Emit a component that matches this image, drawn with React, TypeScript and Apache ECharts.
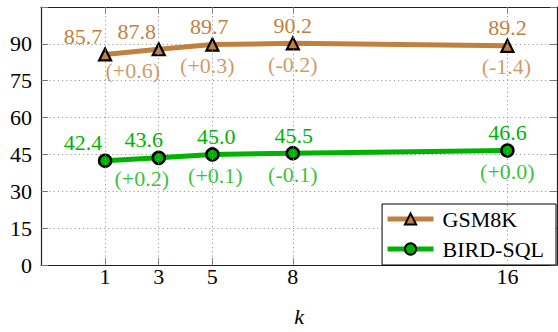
import React, { useEffect, useRef } from "react";
import * as echarts from "echarts";

const kValues = [1, 3, 5, 8, 16];
const gsm8k = [85.7, 87.8, 89.7, 90.2, 89.2];
const birdSql = [42.4, 43.6, 45.0, 45.5, 46.6];
const gsm8kDelta = ["", "(+0.6)", "(+0.3)", "(-0.2)", "(-1.4)"];
const birdSqlDelta = ["", "(+0.2)", "(+0.1)", "(-0.1)", "(+0.0)"];
const yTickMax = 90;

const FONT = "Liberation Serif, serif";
const BROWN = "#bf8040";
const GREEN = "#00b300";

// label placement tweaks (pixels)
const gsmTopDx = [-22, -22, -3, 0, 0];
const birdTopDx = [-22, -15, 4, 1, 0];
const gsmBotDx = [0, -26, -5, 0, -1];
const birdBotDx = [0, -17, 3, 0, 0];
const TOP_DY = -18;
const BOT_DY = 21;

function valueItems(values: number[], dx: number[], color: string) {
  return values.map((v, i) => ({
    value: [kValues[i], v],
    label: {
      show: true,
      position: "inside",
      offset: [dx[i], TOP_DY],
      formatter: v.toFixed(1),
      color,
      fontFamily: FONT,
      fontSize: 22,
    },
  }));
}

function deltaItems(values: number[], deltas: string[], dx: number[], color: string) {
  return values.map((v, i) => ({
    value: [kValues[i], v],
    label: {
      show: deltas[i] !== "",
      position: "inside",
      offset: [dx[i], BOT_DY],
      formatter: deltas[i],
      color,
      fontFamily: FONT,
      fontSize: 22,
    },
  }));
}

export default function App() {
  const ref = useRef<HTMLDivElement>(null);
  useEffect(() => {
    if (!ref.current) return;
    const chart = echarts.init(ref.current, undefined, { renderer: "svg" });
    const axisLine = { show: true, onZero: false, lineStyle: { color: "#222", width: 1.2 } };
    const tick = { show: true, inside: true, length: 7, lineStyle: { color: "#777", width: 1 } };
    const dotted = { color: "#9a9a9a", width: 1, type: [1.2, 3] as number[] };
    chart.setOption({
      animation: false,
      backgroundColor: "#fff",
      textStyle: { fontFamily: FONT },
      grid: { left: 41, right: 1, top: 7, bottom: 66 },
      xAxis: [
        {
          type: "value",
          min: -1.39,
          max: 17.85,
          position: "bottom",
          axisLine,
          axisTick: { ...tick, customValues: kValues },
          axisLabel: {
            customValues: kValues,
            color: "#000",
            fontFamily: FONT,
            fontSize: 22,
            margin: 0,
          },
          splitLine: { show: false },
          name: "k",
          nameLocation: "middle",
          nameGap: 40,
          nameTextStyle: { fontFamily: FONT, fontSize: 22, fontStyle: "italic", color: "#000" },
        },
        {
          type: "value",
          min: -1.39,
          max: 17.85,
          position: "top",
          axisLine,
          axisTick: { ...tick, customValues: kValues },
          axisLabel: { show: false },
          splitLine: { show: false },
        },
      ],
      yAxis: [
        {
          type: "value",
          min: 0,
          max: 105,
          interval: 15,
          position: "left",
          axisLine,
          axisTick: tick,
          axisLabel: {
            color: "#000",
            fontFamily: FONT,
            fontSize: 22,
            margin: 9,
            formatter: (v: number) => (v <= yTickMax ? String(v) : ""),
          },
          splitLine: { show: true, lineStyle: dotted },
        },
        {
          type: "value",
          min: 0,
          max: 105,
          interval: 15,
          position: "right",
          axisLine,
          axisTick: tick,
          axisLabel: { show: false },
          splitLine: { show: false },
        },
      ],
      legend: {
        data: ["GSM8K", "BIRD-SQL"],
        orient: "vertical",
        right: 2,
        bottom: 67,
        itemWidth: 46,
        itemHeight: 14,
        itemGap: 8,
        padding: [4, 12, 5, 3],
        borderColor: "#000",
        borderWidth: 1,
        borderRadius: 0,
        backgroundColor: "#fff",
        lineStyle: { width: 5 },
        textStyle: { fontFamily: FONT, fontSize: 22, color: "#000", padding: [0, 0, 0, 4] },
      },
      series: [
        {
          type: "line",
          name: "grid",
          data: [],
          z: 1,
          silent: true,
          markLine: {
            silent: true,
            symbol: "none",
            label: { show: false },
            lineStyle: dotted,
            data: kValues.map((k) => ({ xAxis: k })),
          },
        },
        {
          type: "line",
          name: "GSM8K",
          data: valueItems(gsm8k, gsmTopDx, BROWN),
          lineStyle: { color: BROWN, width: 5 },
          itemStyle: { color: BROWN, borderColor: "#000", borderWidth: 2.2 },
          symbol: "triangle",
          symbolSize: 12,
          z: 3,
        },
        {
          type: "line",
          name: "BIRD-SQL",
          data: valueItems(birdSql, birdTopDx, GREEN),
          lineStyle: { color: GREEN, width: 5 },
          itemStyle: { color: GREEN, borderColor: "#000", borderWidth: 2.5 },
          symbol: "circle",
          symbolSize: 12,
          z: 3,
        },
        {
          type: "scatter",
          name: "gsmDelta",
          data: deltaItems(gsm8k, gsm8kDelta, gsmBotDx, BROWN),
          symbolSize: 0.1,
          itemStyle: { color: "transparent" },
          silent: true,
          z: 4,
        },
        {
          type: "scatter",
          name: "birdDelta",
          data: deltaItems(birdSql, birdSqlDelta, birdBotDx, GREEN),
          symbolSize: 0.1,
          itemStyle: { color: "transparent" },
          silent: true,
          z: 4,
        },
      ],
    });
    return () => chart.dispose();
  }, []);
  return <div ref={ref} style={{ width: 558, height: 332, position: "fixed", left: 0, top: 0 }} />;
}
